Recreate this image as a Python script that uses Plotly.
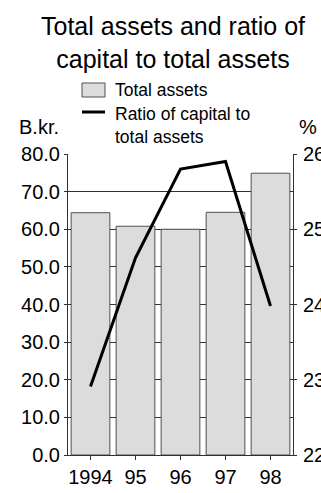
import plotly.graph_objects as go

# Data
years = ["1994", "95", "96", "97", "98"]
total_assets = [64.4, 60.8, 60.0, 64.5, 74.9]          # B.kr. (left axis)
capital_ratio = [22.91, 24.62, 25.80, 25.90, 23.98]   # % (right axis)
left_ticks = [0, 10, 20, 30, 40, 50, 60, 70, 80]
right_ticks = [22, 23, 24, 25, 26]

FONT = "Liberation Sans, Arial, sans-serif"
W, H = 321, 493
L, R, T, B = 68, 28, 154, 38


def px_x(px):
    return (px - L) / (W - L - R)


def px_y(py):
    return (H - B - py) / (H - T - B)


fig = go.Figure()
fig.add_trace(go.Bar(
    x=years, y=total_assets, name="Total assets",
    marker=dict(color="#dcdcdc", line=dict(color="#505050", width=1)),
    yaxis="y",
))
fig.add_trace(go.Scatter(
    x=years, y=capital_ratio, name="Ratio of capital to total assets",
    mode="lines", line=dict(color="black", width=3),
    yaxis="y2",
))

axis_font = dict(family=FONT, size=20, color="black")

fig.update_layout(
    width=W, height=H,
    margin=dict(l=L, r=R, t=T, b=B, pad=0),
    paper_bgcolor="white", plot_bgcolor="white",
    showlegend=False,
    bargap=0.14,
    font=dict(family=FONT, color="black"),
    xaxis=dict(
        type="category", tickfont=axis_font, automargin=False,
        showline=True, linecolor="#303030", linewidth=1,
        ticks="outside", ticklen=4, tickcolor="#303030",
        showgrid=False, zeroline=False,
    ),
    yaxis=dict(
        range=[0, 80], tickvals=left_ticks, automargin=False,
        ticktext=[f"{v:.1f}" for v in left_ticks],
        tickfont=axis_font,
        showline=True, linecolor="#303030", linewidth=1,
        ticks="outside", ticklen=3, tickcolor="#303030",
        showgrid=True, gridcolor="#303030", gridwidth=1,
        zeroline=False, layer="below traces",
    ),
    yaxis2=dict(
        range=[22, 26], tickvals=right_ticks, automargin=False,
        tickfont=axis_font, overlaying="y", side="right",
        showline=True, linecolor="#303030", linewidth=1,
        ticks="outside", ticklen=3, tickcolor="#303030",
        ticklabelstandoff=2,
        showgrid=False, zeroline=False,
    ),
)

# Chart title
fig.add_annotation(text="Total assets and ratio of<br>capital to total assets",
                   x=px_x(173), y=px_y(10), xref="paper", yref="paper",
                   xanchor="center", yanchor="top", align="center",
                   showarrow=False, font=dict(family=FONT, size=25))

# Legend drawn as swatches with text beside them
fig.add_shape(type="rect", xref="paper", yref="paper",
              x0=px_x(82), x1=px_x(105), y0=px_y(97), y1=px_y(83),
              fillcolor="#dcdcdc", line=dict(color="#505050", width=1))
fig.add_shape(type="line", xref="paper", yref="paper",
              x0=px_x(82), x1=px_x(105), y0=px_y(112), y1=px_y(112),
              line=dict(color="black", width=3))

fig.add_annotation(text="Total assets", x=px_x(113), y=px_y(90),
                   xref="paper", yref="paper", xanchor="left", yanchor="middle",
                   showarrow=False, font=dict(family=FONT, size=17.5))
fig.add_annotation(text="Ratio of capital to<br>total assets", x=px_x(113), y=px_y(102),
                   xref="paper", yref="paper", xanchor="left", yanchor="top",
                   align="left", showarrow=False, font=dict(family=FONT, size=17.5))

# Axis unit labels
fig.add_annotation(text="B.kr.", x=px_x(17), y=px_y(140),
                   xref="paper", yref="paper", xanchor="left", yanchor="bottom",
                   showarrow=False, font=dict(family=FONT, size=20))
fig.add_annotation(text="%", x=px_x(297), y=px_y(140),
                   xref="paper", yref="paper", xanchor="left", yanchor="bottom",
                   showarrow=False, font=dict(family=FONT, size=20))

fig.write_html("out.html")
